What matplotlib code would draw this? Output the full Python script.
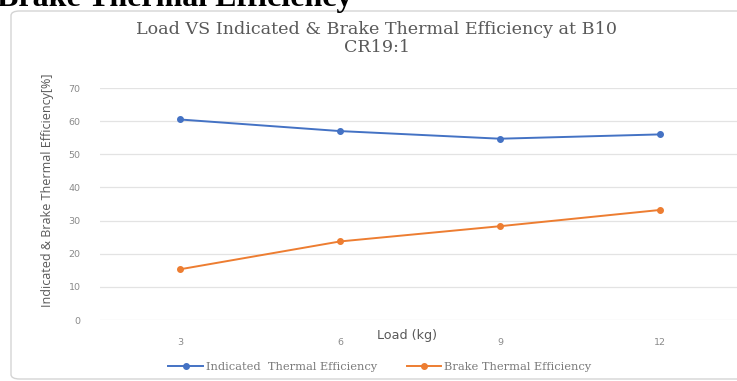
import matplotlib
matplotlib.use("Agg")
import matplotlib.pyplot as plt
from matplotlib.patches import FancyBboxPatch

loads = ["3", "6", "9", "12"]
indicated_te = [60.5, 57.0, 54.7, 56.0]
brake_te = [15.3, 23.7, 28.3, 33.2]
y_ticks = [0, 10, 20, 30, 40, 50, 60, 70]

W, H = 737, 381
fig = plt.figure(figsize=(W / 100, H / 100), dpi=100)
fig.patch.set_facecolor("white")

# section heading above the chart, partly cut off by the top edge
fig.text(-3 / W, 1 - 6 / H, "Brake Thermal Efficiency", fontsize=23,
         fontweight="bold", family="Liberation Serif", color="black",
         ha="left", va="baseline")

# chart frame
frame = FancyBboxPatch((11 / W, 2 / H), 740 / W, (H - 13) / H,
                       boxstyle="round,pad=0,rounding_size=0.012",
                       transform=fig.transFigure, facecolor="none",
                       edgecolor="#d4d4d4", linewidth=1.0, zorder=-1)
fig.patches.append(frame)

ax = fig.add_axes([100 / W, (H - 320) / H, 640 / W, (320 - 88) / H])
ax.set_facecolor("none")
x = list(range(len(loads)))

ax.plot(x, indicated_te, color="#4472C4", lw=1.4, marker="o", ms=4,
        label="Indicated  Thermal Efficiency", zorder=3)
ax.plot(x, brake_te, color="#ED7D31", lw=1.4, marker="o", ms=4,
        label="Brake Thermal Efficiency", zorder=3)

ax.set_xlim(-0.5, len(loads) - 0.5)
ax.set_ylim(0, 70)
ax.set_yticks(y_ticks)
ax.set_yticklabels([str(v) for v in y_ticks])
ax.set_xticks(x)
ax.set_xticklabels(loads)
ax.grid(axis="y", color="#e3e3e3", lw=0.9)
ax.set_axisbelow(True)
for s in ax.spines.values():
    s.set_visible(False)
ax.tick_params(length=0, labelsize=6.8, colors="#8a8a8a")
ax.tick_params(axis="y", pad=14)
ax.tick_params(axis="x", pad=13)
for t in ax.get_xticklabels() + ax.get_yticklabels():
    t.set_family("DejaVu Sans")

fig.text(48 / W, 1 - 190 / H, "Indicated & Brake Thermal Efficiency[%]",
         fontsize=9, color="#595959", family="Open Sans", rotation=90,
         ha="center", va="center")
fig.text(407 / W, 1 - 335 / H, "Load (kg)", fontsize=9.2, color="#595959",
         family="DejaVu Sans", ha="center", va="center")

fig.text(377 / W, 1 - 30 / H, "Load VS Indicated & Brake Thermal Efficiency at B10",
         fontsize=12.6, family="DejaVu Serif", color="#595959",
         ha="center", va="center")
fig.text(377 / W, 1 - 47 / H, "CR19:1", fontsize=12.6, family="DejaVu Serif",
         color="#595959", ha="center", va="center")

leg = fig.legend(loc="center", bbox_to_anchor=(380 / W, 1 - 367 / H), ncol=2,
                 frameon=False, handlelength=3.0,
                 columnspacing=2.6, handletextpad=0.3,
                 prop={"family": "DejaVu Serif", "size": 8.2})
for t in leg.get_texts():
    t.set_color("#7a7a7a")
for h in leg.legend_handles:
    h.set_linewidth(1.4)
    h.set_markersize(4)

fig.savefig("out.png", dpi=100)
